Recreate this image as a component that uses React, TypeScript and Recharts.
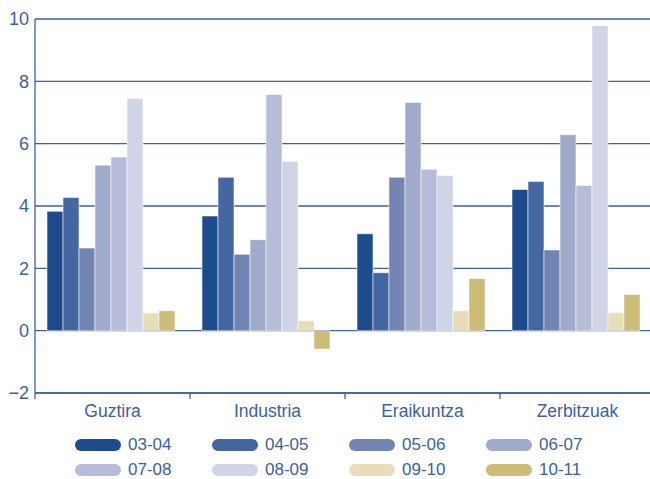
import { BarChart, Bar, XAxis, YAxis, CartesianGrid } from "recharts";

const categories = ["Guztira", "Industria", "Eraikuntza", "Zerbitzuak"];
const periods = ["03-04", "04-05", "05-06", "06-07", "07-08", "08-09", "09-10", "10-11"];
const colors = ["#1c4c8c", "#4467a1", "#7184b2", "#a0abcc", "#b7bcd9", "#cfd4e6", "#e8ddb6", "#cdbb78"];

// one array per period, values in category order
const v0304 = [3.83, 3.68, 3.11, 4.53];
const v0405 = [4.27, 4.92, 1.86, 4.79];
const v0506 = [2.65, 2.45, 4.92, 2.59];
const v0607 = [5.31, 2.92, 7.32, 6.29];
const v0708 = [5.57, 7.58, 5.18, 4.66];
const v0809 = [7.45, 5.43, 4.98, 9.78];
const v0910 = [0.57, 0.32, 0.64, 0.58];
const v1011 = [0.64, -0.59, 1.67, 1.16];

const yTicks = [-2, 0, 2, 4, 6, 8, 10];

const seriesValues = [v0304, v0405, v0506, v0607, v0708, v0809, v0910, v1011];

const data = categories.map((name, i) => {
  const row: Record<string, string | number> = { name };
  periods.forEach((p, j) => {
    row[p] = seriesValues[j][i];
  });
  return row;
});

const BLUE = "#3c619e";
const FONT = '"Liberation Sans", Arial, sans-serif';
const WIDTH = 655;
const HEIGHT = 479;
const Y_AXIS_W = 35;
const BAND = (WIDTH - Y_AXIS_W) / categories.length;

function CategoryTick(props: any) {
  const { x, y, payload } = props;
  const axisY = y - 8;
  return (
    <g>
      <line x1={x - BAND / 2} y1={axisY} x2={x - BAND / 2} y2={axisY + 6} stroke={BLUE} strokeWidth={1.3} />
      <text x={x} y={axisY + 24} textAnchor="middle" fill={BLUE} fontSize={17.5} fontFamily={FONT}>
        {payload.value}
      </text>
    </g>
  );
}

function formatY(v: number) {
  return v < 0 ? `\u2212${Math.abs(v)}` : String(v);
}

export default function App() {
  return (
    <div style={{ position: "absolute", left: 0, top: 0, width: 650, height: HEIGHT, overflow: "hidden", background: "#fff" }}>
      <BarChart
        width={WIDTH}
        height={HEIGHT}
        data={data}
        margin={{ top: 19, right: 0, bottom: 0, left: 0 }}
        barCategoryGap={12}
        barGap={0}
      >
        <CartesianGrid vertical={false} stroke={BLUE} strokeWidth={1.3} horizontalValues={yTicks} />
        <XAxis
          dataKey="name"
          height={86}
          axisLine={{ stroke: BLUE, strokeWidth: 1.3 }}
          tickLine={false}
          tick={<CategoryTick />}
          interval={0}
        />
        <YAxis
          width={Y_AXIS_W}
          domain={[-2, 10]}
          ticks={yTicks}
          axisLine={{ stroke: BLUE, strokeWidth: 1.3 }}
          tickLine={false}
          tickMargin={0}
          tickFormatter={formatY}
          tick={{ fill: BLUE, fontSize: 18, fontFamily: FONT }}
        />
        {periods.map((p, i) => (
          <Bar
            key={p}
            dataKey={p}
            fill={colors[i]}
            stroke="#ffffff"
            strokeOpacity={0.55}
            strokeWidth={1}
            isAnimationActive={false}
          />
        ))}
      </BarChart>
      <div
        style={{
          position: "absolute",
          left: 75,
          top: 436,
          display: "grid",
          gridTemplateColumns: "repeat(4, 137px)",
          rowGap: 8,
          fontFamily: FONT,
          fontSize: 17,
          lineHeight: "17px",
          color: BLUE,
        }}
      >
        {periods.map((p, i) => (
          <div key={p} style={{ display: "flex", alignItems: "center", height: 17 }}>
            <span
              style={{
                display: "inline-block",
                width: 46,
                height: 12,
                borderRadius: 6,
                background: colors[i],
                marginRight: 7,
              }}
            />
            <span>{p}</span>
          </div>
        ))}
      </div>
    </div>
  );
}
